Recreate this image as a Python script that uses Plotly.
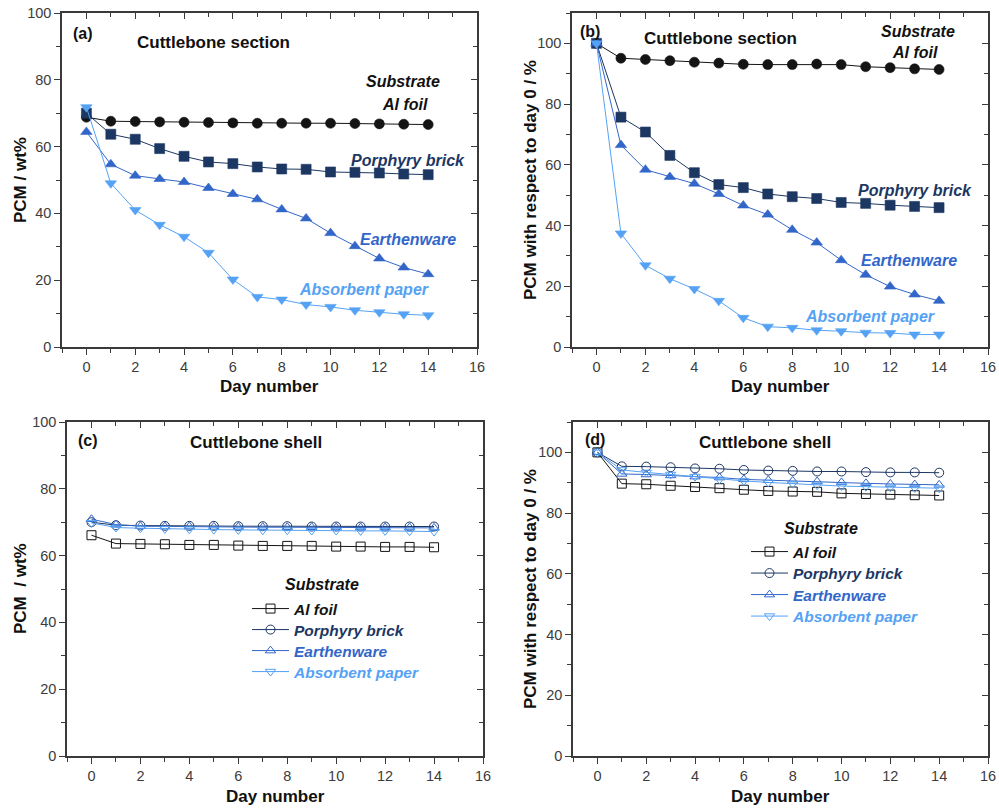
import plotly.graph_objects as go

W, H = 999, 809
days = list(range(15))

series_names = ["Al foil", "Porphyry brick", "Earthenware", "Absorbent paper"]
series_colors = ["#141414", "#1d3763", "#3366c9", "#55a2f5"]

# (a) Cuttlebone section, PCM / wt%
a_al = [68.8, 67.6, 67.5, 67.4, 67.3, 67.2, 67.1, 67.0, 67.0, 67.0, 67.0, 66.9, 66.8, 66.7, 66.6]
a_por = [70.0, 63.7, 62.2, 59.4, 57.1, 55.4, 54.9, 53.9, 53.3, 53.2, 52.4, 52.3, 52.1, 51.8, 51.6]
a_ear = [64.4, 54.7, 51.3, 50.3, 49.4, 47.6, 45.8, 44.2, 41.2, 38.5, 34.1, 30.2, 26.5, 23.8, 21.8]
a_abs = [71.8, 49.0, 41.0, 36.6, 33.0, 28.2, 20.2, 15.0, 14.2, 12.7, 12.0, 11.0, 10.4, 9.8, 9.5]

# (b) Cuttlebone section, % of day 0
b_al = [100, 95.1, 94.7, 94.3, 93.8, 93.5, 93.1, 93.0, 93.0, 93.2, 93.0, 92.3, 92.0, 91.6, 91.4]
b_por = [100, 75.7, 70.8, 63.1, 57.4, 53.5, 52.5, 50.4, 49.5, 48.9, 47.6, 47.3, 46.7, 46.3, 45.9]
b_ear = [100, 66.5, 58.4, 56.0, 53.8, 50.4, 46.6, 43.6, 38.6, 34.4, 28.6, 23.8, 19.9, 17.3, 15.2]
b_abs = [100, 37.4, 26.9, 22.5, 19.1, 15.2, 9.6, 6.7, 6.3, 5.5, 5.2, 4.7, 4.6, 4.1, 4.1]

# (c) Cuttlebone shell, PCM / wt%
c_al = [66.1, 63.6, 63.5, 63.4, 63.2, 63.2, 63.0, 62.9, 62.9, 62.9, 62.7, 62.7, 62.6, 62.6, 62.5]
c_por = [70.0, 69.1, 69.0, 68.9, 68.9, 68.9, 68.8, 68.8, 68.8, 68.7, 68.7, 68.7, 68.7, 68.7, 68.7]
c_ear = [70.9, 69.3, 68.8, 68.7, 68.7, 68.6, 68.6, 68.5, 68.5, 68.5, 68.4, 68.4, 68.4, 68.4, 68.3]
c_abs = [69.8, 68.4, 68.2, 68.0, 67.9, 67.8, 67.7, 67.6, 67.6, 67.5, 67.5, 67.4, 67.4, 67.3, 67.2]

# (d) Cuttlebone shell, % of day 0
d_al = [100, 89.7, 89.5, 89.0, 88.6, 88.2, 87.7, 87.3, 87.1, 87.0, 86.5, 86.3, 86.1, 85.9, 85.8]
d_por = [100, 95.4, 95.3, 95.1, 94.7, 94.6, 94.2, 94.0, 93.9, 93.7, 93.7, 93.5, 93.4, 93.4, 93.3]
d_ear = [100, 92.9, 92.7, 92.4, 92.0, 91.7, 91.1, 90.8, 90.6, 90.4, 90.1, 89.8, 89.6, 89.4, 89.3]
d_abs = [100, 94.2, 93.4, 92.7, 92.0, 91.1, 90.6, 90.1, 89.7, 89.2, 88.9, 88.7, 88.5, 88.3, 88.2]

panel_data = [
    [a_al, a_por, a_ear, a_abs],
    [b_al, b_por, b_ear, b_abs],
    [c_al, c_por, c_ear, c_abs],
    [d_al, d_por, d_ear, d_abs],
]
filled_symbols = ["circle", "square", "triangle-up", "triangle-down"]
open_symbols = ["square-open", "circle-open", "triangle-up-open", "triangle-down-open"]

# panel boxes in pixels: (left, right, top, bottom)
boxes = [(62, 477, 13, 347), (572, 988, 13, 347), (67, 483, 422, 756), (573, 988, 422, 756)]
yranges = [[0, 100], [0, 110], [0, 100], [0, 110]]
ytitles = ["PCM / wt%", "PCM with respect to day 0 / %", "PCM  / wt%", "PCM with respect to day 0 / %"]
ytitle_x = [20, 530, 20, 530]

# legend placement (pixels): left x, item centre y for each series, title centre
legend_pos = {
    2: dict(x=247, ys=[609, 630, 651, 672], title=(322, 584)),
    3: dict(x=746, ys=[552, 573.5, 595, 616.5], title=(821, 528)),
}

FONT = "Arial, Liberation Sans, sans-serif"
AX = "#3a3a3a"

fig = go.Figure()
layout = dict(
    template="none",
    width=W, height=H, margin=dict(l=0, r=0, t=0, b=0, autoexpand=False),
    paper_bgcolor="white", plot_bgcolor="white",
    font=dict(family=FONT, size=14, color="#222"),
)

leg_idx = 1
for p in range(4):
    xa = "x" if p == 0 else f"x{p+1}"
    ya = "y" if p == 0 else f"y{p+1}"
    for s in range(4):
        if p < 2:
            mk = dict(symbol=filled_symbols[s], size=10, color=series_colors[s],
                      line=dict(width=0.6, color=series_colors[s]))
            showleg = False
            leg = "legend"
        else:
            mk = dict(symbol=open_symbols[s], size=9, color=series_colors[s], line=dict(width=1))
            showleg = True
            leg = "legend" if leg_idx == 1 else f"legend{leg_idx}"
            lp = legend_pos[p]
            layout[leg] = dict(
                bgcolor="rgba(0,0,0,0)", borderwidth=0,
                font=dict(size=15.5, family=FONT), itemwidth=37,
                x=lp["x"] / W, y=1 - lp["ys"][s] / H, xanchor="left", yanchor="middle",
            )
            leg_idx += 1
        nm = f"<span style='color:{series_colors[s]}'><b><i>{series_names[s]}</i></b></span>"
        fig.add_trace(go.Scatter(
            x=days, y=panel_data[p][s], mode="lines+markers", name=nm,
            line=dict(color=series_colors[s], width=1), marker=mk,
            xaxis=xa, yaxis=ya, showlegend=showleg, legend=leg,
        ))
    # dummy trace for mirror axes (top / right with inside ticks)
    fig.add_trace(go.Scatter(x=[None], y=[None], xaxis=f"x{p+5}", yaxis=f"y{p+5}",
                             showlegend=False, hoverinfo="skip"))

for p in range(4):
    l, r, t, b = boxes[p]
    xd = [l / W, r / W]
    yd = [1 - b / H, 1 - t / H]
    xk = "xaxis" if p == 0 else f"xaxis{p+1}"
    yk = "yaxis" if p == 0 else f"yaxis{p+1}"
    ya_ref = "y" if p == 0 else f"y{p+1}"
    xa_ref = "x" if p == 0 else f"x{p+1}"
    common = dict(showline=True, linecolor=AX, linewidth=1.5, showgrid=False,
                  zeroline=False, automargin=False, tickcolor=AX, tickwidth=1.2)
    layout[xk] = dict(
        common, domain=xd, anchor=ya_ref, range=[-1, 16], tickmode="array",
        tickvals=list(range(0, 17, 2)), ticks="outside", ticklen=6,
        tickfont=dict(size=14.5, color="#3c3c3c"),
        minor=dict(ticks="outside", dtick=1, ticklen=4, tickcolor=AX, showgrid=False),
    )
    layout[yk] = dict(
        common, domain=yd, anchor=xa_ref, range=yranges[p], tickmode="array",
        tickvals=list(range(0, 101, 20)), ticks="outside", ticklen=6,
        tickfont=dict(size=14.5, color="#3c3c3c"),
        minor=dict(ticks="outside", dtick=10, ticklen=4, tickcolor=AX, showgrid=False),
    )
    layout[f"xaxis{p+5}"] = dict(
        common, overlaying=xa_ref, side="top", anchor=f"y{p+5}", range=[-1, 16],
        tickmode="array", tickvals=list(range(0, 17, 2)), ticks="inside", ticklen=6,
        showticklabels=False,
        minor=dict(ticks="inside", dtick=1, ticklen=4, tickcolor=AX, showgrid=False),
    )
    layout[f"yaxis{p+5}"] = dict(
        common, overlaying=ya_ref, side="right", anchor=f"x{p+5}", range=yranges[p],
        tickmode="array", tickvals=list(range(0, 101, 20)), ticks="inside", ticklen=6,
        showticklabels=False,
        minor=dict(ticks="inside", dtick=10, ticklen=4, tickcolor=AX, showgrid=False),
    )

fig.update_layout(**layout)

def ann(text, px, py, size=16, color="#111", xanchor="center", angle=0):
    fig.add_annotation(text=text, x=px / W, y=1 - py / H, xref="paper", yref="paper",
                       showarrow=False, xanchor=xanchor, yanchor="middle", textangle=angle,
                       font=dict(size=size, color=color, family=FONT))

# axis titles
for p in range(4):
    l, r, t, b = boxes[p]
    ann("<b>Day number</b>", (l + r) / 2, b + 40, size=17)
    ann(f"<b>{ytitles[p]}</b>", ytitle_x[p], (t + b) / 2, size=17, angle=-90)

# legend titles
for p, lp in legend_pos.items():
    ann("<b><i>Substrate</i></b>", lp["title"][0], lp["title"][1])

# panel (a)
ann("<b>(a)</b>", 71, 34, xanchor="left")
ann("<b>Cuttlebone section</b>", 213, 42, size=17)
ann("<b><i>Substrate</i></b>", 403, 82)
ann("<b><i>Al foil</i></b>", 405, 104)
ann("<b><i>Porphyry brick</i></b>", 408, 161, color=series_colors[1])
ann("<b><i>Earthenware</i></b>", 408, 240, color=series_colors[2])
ann("<b><i>Absorbent paper</i></b>", 364, 289, color=series_colors[3])
# panel (b)
ann("<b>(b)</b>", 578, 31, xanchor="left")
ann("<b>Cuttlebone section</b>", 720, 39, size=17)
ann("<b><i>Substrate</i></b>", 918, 32)
ann("<b><i>Al foil</i></b>", 915, 52)
ann("<b><i>Porphyry brick</i></b>", 915, 190, color=series_colors[1])
ann("<b><i>Earthenware</i></b>", 909, 260, color=series_colors[2])
ann("<b><i>Absorbent paper</i></b>", 870, 316, color=series_colors[3])
# panel (c)
ann("<b>(c)</b>", 76, 440, xanchor="left")
ann("<b>Cuttlebone shell</b>", 256, 443, size=17)
# panel (d)
ann("<b>(d)</b>", 583, 439, xanchor="left")
ann("<b>Cuttlebone shell</b>", 765, 442, size=17)

fig.write_html("out.html")
